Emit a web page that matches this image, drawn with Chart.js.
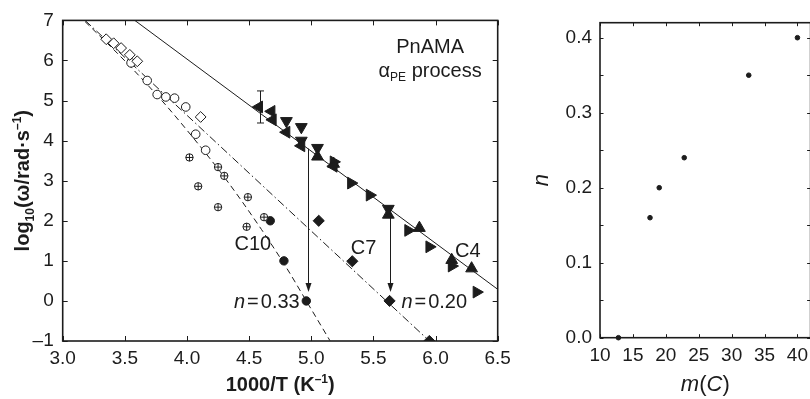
<!DOCTYPE html>
<html>
<head>
<meta charset="utf-8">
<script src="https://cdn.jsdelivr.net/npm/chart.js@4.4.1/dist/chart.umd.min.js"></script>
<style>
  html, body { margin: 0; padding: 0; background: #fff; overflow: hidden; }
  #wrap { position: relative; width: 810px; height: 399px; overflow: hidden; }
  #left { position: absolute; left: 0; top: 0; }
  #right { position: absolute; left: 520px; top: 0; }
</style>
</head>
<body>
<div id="wrap">
  <canvas id="left" width="520" height="399"></canvas>
  <canvas id="right" width="300" height="399"></canvas>
</div>
<script>
// relaxation map: log10(omega) against 1000/T
const c7OpenX = [3.35, 3.41, 3.47, 3.54, 3.60, 4.11];
const c7OpenY = [6.53, 6.43, 6.31, 6.14, 5.98, 4.59];
const c10OpenX = [3.55, 3.68, 3.76, 3.83, 3.90, 3.99, 4.07, 4.15];
const c10OpenY = [5.94, 5.50, 5.15, 5.09, 5.06, 4.84, 4.16, 3.76];
const c10CrossX = [4.02, 4.09, 4.25, 4.30, 4.49, 4.25, 4.62, 4.48];
const c10CrossY = [3.58, 2.86, 3.34, 3.12, 2.59, 2.34, 2.09, 1.85];
const c10FillX = [4.67, 4.78, 4.96];
const c10FillY = [2.00, 1.00, 0.00];
const c7FillX = [5.06, 5.33, 5.63, 5.95];
const c7FillY = [2.00, 0.99, 0.00, -1.00];

// C4 points, split by triangle orientation
const c4LeftX = [4.58, 4.68, 4.69, 4.80, 4.92, 5.18];
const c4LeftY = [4.84, 4.73, 4.52, 4.21, 3.87, 3.36];
const c4DownX = [4.80, 4.92, 4.92, 5.05, 5.62];
const c4DownY = [4.49, 4.34, 4.00, 3.82, 2.30];
const c4RightX = [5.18, 5.32, 5.47, 5.78, 5.95, 6.13, 6.33];
const c4RightY = [3.47, 2.94, 2.64, 1.76, 1.35, 0.87, 0.22];
const c4UpX = [5.05, 5.18, 5.62, 5.87, 6.13, 6.29];
const c4UpY = [3.60, 3.42, 2.15, 1.82, 1.02, 0.81];

// error bar on the first C4 point
const errX = [4.59];
const errLo = [4.44];
const errHi = [5.24];

// fitted curves
const c4FitX = [3.58, 6.50];
const c4FitY = [7.00, 0.29];
const c7FitX = [3.18, 5.95];
const c7FitY = [7.00, -1.00];
const c10FitX = [3.18, 3.50, 3.80, 4.00, 4.30, 4.60, 4.80, 4.96, 5.15];
const c10FitY = [6.97, 5.99, 4.99, 4.26, 3.09, 1.78, 0.83, 0.00, -0.99];

// vertical shift arrows
const arrowX = [4.975, 5.63];
const arrowFrom = [3.80, 2.09];
const arrowTo = [0.22, 0.22];

// stretching exponent n against m(C)
const mX = [12.8, 17.6, 19.0, 22.8, 32.6, 40.0];
const nY = [0.00, 0.16, 0.20, 0.24, 0.35, 0.40];

const ink = '#1c1c1c';
const FAM = '"Liberation Sans", Arial, Helvetica, sans-serif';

function pts(xs, ys) {
  return xs.map((x, i) => ({ x: x, y: ys[i] }));
}

function markers(data, style, radius, extra) {
  return Object.assign({
    data: data,
    pointStyle: style,
    pointRadius: radius,
    pointBorderColor: ink,
    pointBackgroundColor: ink,
    pointBorderWidth: 1,
    showLine: false,
    clip: 0,
    order: 1
  }, extra || {});
}

function fitLine(data, dash) {
  return {
    data: data,
    showLine: true,
    borderColor: ink,
    borderWidth: 1,
    borderDash: dash,
    pointRadius: 0,
    cubicInterpolationMode: 'monotone',
    order: 2
  };
}

function fontOf(p) {
  return (p.italic ? 'italic ' : '') + (p.bold ? 'bold ' : '') + p.size + 'px ' + FAM;
}

// draws mixed text runs (sub/superscripts) on one baseline; gap adds space after a run
function drawRuns(ctx, parts, x, y, align) {
  let w = 0;
  parts.forEach(p => { ctx.font = fontOf(p); w += ctx.measureText(p.t).width + (p.gap || 0); });
  let cx = align === 'center' ? x - w / 2 : align === 'right' ? x - w : x;
  ctx.textAlign = 'left';
  ctx.textBaseline = 'alphabetic';
  parts.forEach(p => {
    ctx.font = fontOf(p);
    ctx.fillText(p.t, cx, y + (p.dy || 0));
    cx += ctx.measureText(p.t).width + (p.gap || 0);
  });
}

// box round the plot area with inward ticks on all four sides
const framePlugin = {
  id: 'frame',
  afterDatasetsDraw(chart, args, o) {
    const { ctx, chartArea: a } = chart;
    const x = chart.scales.x, y = chart.scales.y;
    ctx.save();
    ctx.strokeStyle = ink;
    ctx.lineWidth = 1;
    ctx.beginPath();
    x.ticks.forEach(t => {
      const p = Math.round(x.getPixelForValue(t.value)) + 0.5;
      ctx.moveTo(p, a.bottom); ctx.lineTo(p, a.bottom - o.len);
      ctx.moveTo(p, a.top); ctx.lineTo(p, a.top + o.len);
    });
    y.ticks.forEach(t => {
      const p = Math.round(y.getPixelForValue(t.value)) + 0.5;
      ctx.moveTo(a.left, p); ctx.lineTo(a.left + o.len, p);
      ctx.moveTo(a.right, p); ctx.lineTo(a.right - o.len, p);
    });
    ctx.stroke();
    ctx.lineWidth = 1.6;
    ctx.strokeRect(a.left, a.top, a.right - a.left, a.bottom - a.top);
    ctx.restore();
  }
};

const leftNotes = {
  id: 'leftNotes',
  afterDatasetsDraw(chart) {
    const { ctx, chartArea: a } = chart;
    const x = chart.scales.x, y = chart.scales.y;
    ctx.save();
    ctx.strokeStyle = ink;
    ctx.fillStyle = ink;
    ctx.lineWidth = 1;

    // error bar
    errX.forEach((v, i) => {
      const px = Math.round(x.getPixelForValue(v)) + 0.5;
      const lo = y.getPixelForValue(errLo[i]), hi = y.getPixelForValue(errHi[i]);
      ctx.beginPath();
      ctx.moveTo(px, lo); ctx.lineTo(px, hi);
      ctx.moveTo(px - 3.5, lo); ctx.lineTo(px + 3.5, lo);
      ctx.moveTo(px - 3.5, hi); ctx.lineTo(px + 3.5, hi);
      ctx.stroke();
    });

    // arrows
    arrowX.forEach((v, i) => {
      const px = Math.round(x.getPixelForValue(v)) + 0.5;
      const top = y.getPixelForValue(arrowFrom[i]), tip = y.getPixelForValue(arrowTo[i]);
      ctx.beginPath();
      ctx.moveTo(px, top); ctx.lineTo(px, tip - 6);
      ctx.stroke();
      ctx.beginPath();
      ctx.moveTo(px, tip); ctx.lineTo(px - 3, tip - 9); ctx.lineTo(px + 3, tip - 9);
      ctx.closePath();
      ctx.fill();
    });

    // labels
    drawRuns(ctx, [{ t: 'PnAMA', size: 20 }], x.getPixelForValue(5.956), y.getPixelForValue(6.19), 'center');
    drawRuns(ctx, [{ t: '\u03b1', size: 20 }, { t: 'PE', size: 12, dy: 4 }, { t: ' process', size: 20 }],
      x.getPixelForValue(5.956), y.getPixelForValue(5.58), 'center');
    drawRuns(ctx, [{ t: 'C10', size: 20 }], x.getPixelForValue(4.53), y.getPixelForValue(1.26), 'center');
    drawRuns(ctx, [{ t: 'C7', size: 20 }], x.getPixelForValue(5.42), y.getPixelForValue(1.165), 'center');
    drawRuns(ctx, [{ t: 'C4', size: 20 }], x.getPixelForValue(6.26), y.getPixelForValue(1.10), 'center');
    drawRuns(ctx, [{ t: 'n', size: 20, italic: true, gap: 2 }, { t: '=', size: 20, gap: 2 }, { t: '0.33', size: 20 }],
      x.getPixelForValue(4.907), y.getPixelForValue(-0.17), 'right');
    drawRuns(ctx, [{ t: 'n', size: 20, italic: true, gap: 2 }, { t: '=', size: 20, gap: 2 }, { t: '0.20', size: 20 }],
      x.getPixelForValue(5.725), y.getPixelForValue(-0.17), 'left');

    // axis titles
    drawRuns(ctx, [
      { t: '1000/T (K', size: 20, bold: true },
      { t: '\u20131', size: 12, bold: true, dy: -8 },
      { t: ')', size: 20, bold: true }
    ], (a.left + a.right) / 2, 391, 'center');
    ctx.translate(29, (a.top + a.bottom) / 2);
    ctx.rotate(-Math.PI / 2);
    drawRuns(ctx, [
      { t: 'log', size: 20, bold: true },
      { t: '10', size: 12, bold: true, dy: 5 },
      { t: '(\u03c9/rad\u00b7s', size: 20, bold: true },
      { t: '\u20131', size: 12, bold: true, dy: -8 },
      { t: ')', size: 20, bold: true }
    ], 0, 0, 'center');
    ctx.restore();
  }
};

const rightNotes = {
  id: 'rightNotes',
  afterDatasetsDraw(chart) {
    const { ctx, chartArea: a } = chart;
    ctx.save();
    ctx.fillStyle = ink;
    drawRuns(ctx, [{ t: 'm', size: 22, italic: true }, { t: '(', size: 22 }, { t: 'C', size: 22, italic: true }, { t: ')', size: 22 }],
      (a.left + a.right) / 2, 391, 'center');
    ctx.translate(28, (a.top + a.bottom) / 2);
    ctx.rotate(-Math.PI / 2);
    drawRuns(ctx, [{ t: 'n', size: 22, italic: true }], 0, 0, 'center');
    ctx.restore();
  }
};

function tickFont() {
  return { family: FAM, size: 19 };
}

new Chart(document.getElementById('left'), {
  type: 'scatter',
  data: {
    datasets: [
      markers(pts(c7OpenX, c7OpenY), 'rectRot', 5.4, { pointBackgroundColor: '#fff' }),
      markers(pts(c10OpenX, c10OpenY), 'circle', 4.3, { pointBackgroundColor: '#fff' }),
      markers(pts(c10CrossX, c10CrossY), 'cross', 3.7, {}),
      markers(pts(c10CrossX, c10CrossY), 'circle', 3.7, { pointBackgroundColor: '#fff' }),
      markers(pts(c10FillX, c10FillY), 'circle', 4.2),
      markers(pts(c7FillX, c7FillY), 'rectRot', 5.6),
      markers(pts(c4LeftX, c4LeftY), 'triangle', 6.8, { pointRotation: 270 }),
      markers(pts(c4DownX, c4DownY), 'triangle', 6.8, { pointRotation: 180 }),
      markers(pts(c4RightX, c4RightY), 'triangle', 6.8, { pointRotation: 90 }),
      markers(pts(c4UpX, c4UpY), 'triangle', 6.8),
      fitLine(pts(c4FitX, c4FitY), []),
      fitLine(pts(c7FitX, c7FitY), [8, 3, 1.5, 3]),
      fitLine(pts(c10FitX, c10FitY), [6, 4])
    ]
  },
  options: {
    responsive: false,
    animation: false,
    devicePixelRatio: 1,
    layout: { padding: { left: 0, top: 20, right: 22.3, bottom: 0 } },
    plugins: {
      legend: { display: false },
      tooltip: { enabled: false },
      frame: { len: 5 }
    },
    scales: {
      x: {
        type: 'linear', min: 3, max: 6.5,
        grid: { display: false, drawTicks: false },
        border: { display: false },
        ticks: {
          stepSize: 0.5, padding: 6, color: ink, font: tickFont(),
          maxRotation: 0, autoSkip: false, includeBounds: false,
          callback: v => v.toFixed(1)
        },
        afterFit: s => { s.height = 58; }
      },
      y: {
        type: 'linear', min: -1, max: 7,
        grid: { display: false, drawTicks: false },
        border: { display: false },
        ticks: {
          stepSize: 1, padding: 9, color: ink, font: tickFont(),
          autoSkip: false, includeBounds: false,
          callback: v => (v < 0 ? '\u2013' + Math.abs(v) : String(v))
        },
        afterFit: s => { s.width = 62.7; }
      }
    }
  },
  plugins: [framePlugin, leftNotes]
});

new Chart(document.getElementById('right'), {
  type: 'scatter',
  data: {
    datasets: [markers(pts(mX, nY), 'circle', 2.3, { clip: false })]
  },
  options: {
    responsive: false,
    animation: false,
    devicePixelRatio: 1,
    layout: { padding: { left: 0, top: 22.7, right: 9.4, bottom: 0 } },
    plugins: {
      legend: { display: false },
      tooltip: { enabled: false },
      frame: { len: 3.5 }
    },
    scales: {
      x: {
        type: 'linear', min: 10, max: 42,
        grid: { display: false, drawTicks: false },
        border: { display: false },
        ticks: {
          stepSize: 5, padding: 7, color: ink, font: tickFont(),
          maxRotation: 0, autoSkip: false, includeBounds: false,
          callback: v => String(v)
        },
        afterFit: s => { s.height = 61.3; }
      },
      y: {
        type: 'linear', min: 0, max: 0.42,
        grid: { display: false, drawTicks: false },
        border: { display: false },
        ticks: {
          stepSize: 0.05, padding: 8, color: ink, font: tickFont(),
          autoSkip: false, includeBounds: false,
          callback: v => (Math.round(v * 100) % 10 === 0 ? v.toFixed(1) : '')
        },
        afterFit: s => { s.width = 80; }
      }
    }
  },
  plugins: [framePlugin, rightNotes]
});
</script>
</body>
</html>
